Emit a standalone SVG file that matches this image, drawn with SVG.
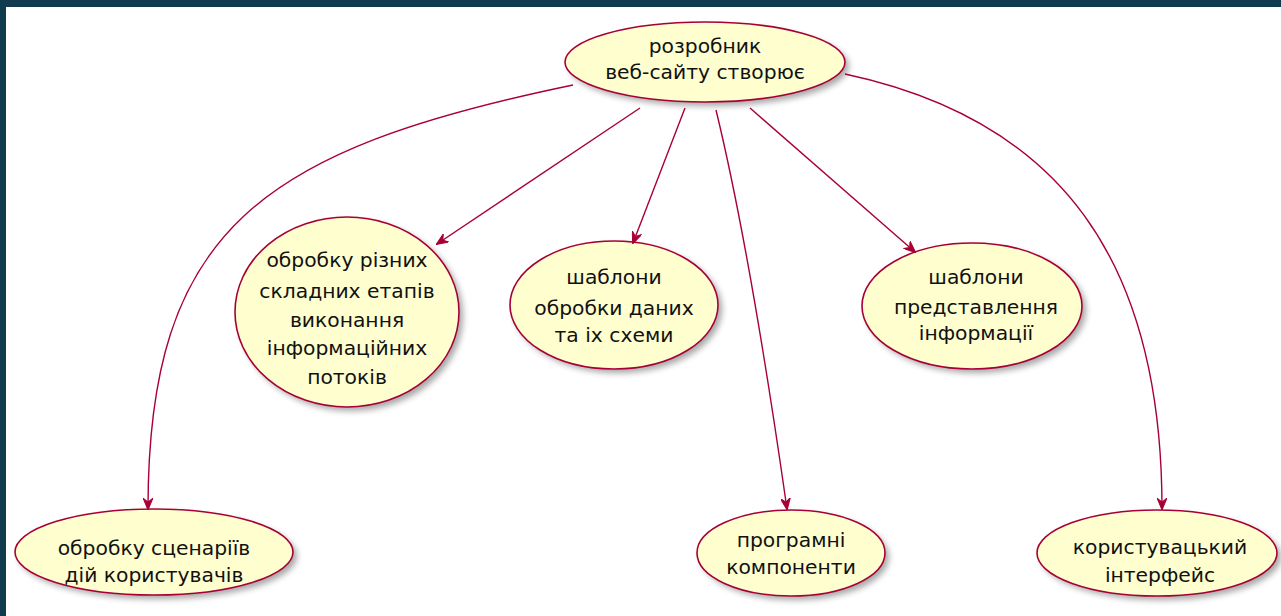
<svg xmlns="http://www.w3.org/2000/svg" width="1281" height="616" viewBox="0 0 1281 616">
<style>
.node ellipse.u{fill:#fefece;stroke:#a80036;stroke-width:1.6}
.node ellipse.s{fill:#000;opacity:0.35;filter:url(#sh)}
.node text{font-family:"DejaVu Sans","Noto Sans",sans-serif;font-size:20.3px;fill:#111;text-anchor:middle}
#edges path{fill:none;stroke:#a80036;stroke-width:1.4}
</style>
<defs>
<filter id="sh" x="-20%" y="-20%" width="140%" height="140%"><feGaussianBlur stdDeviation="3"/></filter>
<marker id="ah" viewBox="0 0 12 10" refX="11" refY="5" markerWidth="12" markerHeight="10" markerUnits="userSpaceOnUse" orient="auto">
<path d="M0,0 L12,5 L0,10 L4,5 Z" fill="#a80036" stroke="#a80036" stroke-width="1"/>
</marker>
</defs>
<rect width="1281" height="616" fill="#ffffff"/>
<rect x="0" y="0" width="1281" height="7" fill="#103a4e"/>
<rect x="0" y="0" width="6" height="616" fill="#103a4e"/>

<g id="n-top" class="node">
<ellipse class="s" cx="709" cy="66" rx="140" ry="40"/>
<ellipse class="u" cx="705" cy="62" rx="140" ry="40"/>
<text x="705" y="53">розробник</text>
<text x="705" y="79">веб-сайту створює</text>
</g>

<g id="n-etapy" class="node">
<ellipse class="s" cx="351" cy="316" rx="112" ry="95"/>
<ellipse class="u" cx="347" cy="312" rx="112" ry="95"/>
<text x="347" y="267">обробку різних</text>
<text x="347" y="298">складних етапів</text>
<text x="347" y="327">виконання</text>
<text x="347" y="355">інформаційних</text>
<text x="347" y="384">потоків</text>
</g>

<g id="n-dani" class="node">
<ellipse class="s" cx="618" cy="309" rx="104" ry="64"/>
<ellipse class="u" cx="614" cy="305" rx="104" ry="64"/>
<text x="614" y="284">шаблони</text>
<text x="614" y="315">обробки даних</text>
<text x="614" y="342">та іх схеми</text>
</g>

<g id="n-info" class="node">
<ellipse class="s" cx="976" cy="310" rx="110" ry="63"/>
<ellipse class="u" cx="972" cy="306" rx="110" ry="63"/>
<text x="976" y="284">шаблони</text>
<text x="976" y="314">представлення</text>
<text x="976" y="340">інформації</text>
</g>

<g id="n-scen" class="node">
<ellipse class="s" cx="158" cy="556" rx="139" ry="43"/>
<ellipse class="u" cx="154" cy="552" rx="139" ry="43"/>
<text x="154" y="555">обробку сценаріїв</text>
<text x="154" y="582">дій користувачів</text>
</g>

<g id="n-prog" class="node">
<ellipse class="s" cx="795" cy="557" rx="94" ry="43"/>
<ellipse class="u" cx="791" cy="553" rx="94" ry="43"/>
<text x="791" y="547">програмні</text>
<text x="791" y="574">компоненти</text>
</g>

<g id="n-ui" class="node">
<ellipse class="s" cx="1161" cy="557" rx="120" ry="43"/>
<ellipse class="u" cx="1157" cy="553" rx="120" ry="43"/>
<text x="1160" y="554">користувацький</text>
<text x="1160" y="582">інтерфейс</text>
</g>

<g id="edges">
<path d="M573,85 C260,150 148,230 148,509" marker-end="url(#ah)"/>
<path d="M640,108 L437,244" marker-end="url(#ah)"/>
<path d="M685,108 L633,243" marker-end="url(#ah)"/>
<path d="M716,110 Q750,250 787,509" marker-end="url(#ah)"/>
<path d="M750,108 L915,252" marker-end="url(#ah)"/>
<path d="M845,74 C1060,120 1162,260 1162,509" marker-end="url(#ah)"/>
</g>
</svg>
